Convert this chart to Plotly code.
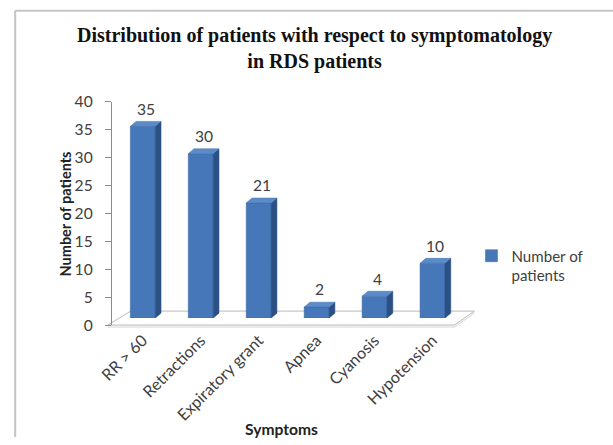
import plotly.graph_objects as go

# Symptom counts among RDS patients
categories = ["RR > 60", "Retractions", "Expiratory grant", "Apnea", "Cyanosis", "Hypotension"]
patients = [35, 30, 21, 2, 4, 10]
y_ticks = [0, 5, 10, 15, 20, 25, 30, 35, 40]

# Layout is written in a 613x445 design grid; the page renders it at a
# slightly larger CSS size (K) and the body keeps its default 8px margin.
K = 1.038
BODY = 8
W, H = 620, 445
X_SHIFT, X_SCALE = 5, 1.015


def px(x):
    """design column -> paper fraction"""
    x = (x - X_SHIFT) / X_SCALE
    return (x * K - BODY) / W


def py(y):
    """design row -> paper fraction"""
    return 1 - (y * K - BODY) / H


def fs(size):
    """font size in design units -> css px"""
    return round(size * K, 1)


FRONT = "#4677b8"
SIDE = "#2b5083"
TOP = "#5b8cc9"
TXT = "#404040"
FONT = "Lato"

bar_w = 0.43   # column width in category units
dx = 0.10      # depth offset along x (category units)
dy = 0.9       # depth offset along y (value units)

xs = list(range(len(categories)))

# side and top faces of each column, built from the same values as the fronts
side_x, side_y, top_x, top_y = [], [], [], []
for i, v in zip(xs, patients):
    r = i + bar_w / 2
    l = i - bar_w / 2
    side_x += [r, r + dx, r + dx, r, r, None]
    side_y += [0, dy, v + dy, v, 0, None]
    top_x += [l, r, r + dx, l + dx, l, None]
    top_y += [v, v, v + dy, v + dy, v, None]

fig = go.Figure()

# empty trace that carries the visible value axis
fig.add_trace(go.Scatter(x=[0], y=[0], mode="none", showlegend=False,
                         hoverinfo="skip", xaxis="x", yaxis="y"))

fig.add_trace(go.Scatter(x=side_x, y=side_y, mode="lines", fill="toself",
                         fillcolor=SIDE, line=dict(width=0.5, color=SIDE),
                         showlegend=False, hoverinfo="skip", xaxis="x", yaxis="y2"))
fig.add_trace(go.Bar(x=xs, y=patients, width=bar_w, name="Number of<br>patients",
                     marker=dict(color=FRONT, line=dict(width=0.5, color="#3a679f")),
                     xaxis="x", yaxis="y2"))
fig.add_trace(go.Scatter(x=top_x, y=top_y, mode="lines", fill="toself",
                         fillcolor=TOP, line=dict(width=0.5, color="#3f6fab"),
                         showlegend=False, hoverinfo="skip", xaxis="x", yaxis="y2"))

annotations = []
for i, v in zip(xs, patients):
    annotations.append(dict(x=i + dx / 2, y=v, xref="x", yref="y2", text=str(v),
                            showarrow=False, yshift=17 * K, xanchor="center",
                            yanchor="middle",
                            font=dict(family=FONT, size=fs(15), color=TXT)))

annotations += [
    dict(x=px(312), y=py(46), xref="paper", yref="paper", showarrow=False,
         text="<b>Distribution of patients with respect to symptomatology<br>in RDS patients</b>",
         font=dict(family="Liberation Serif", size=fs(19.3), color="#111111"),
         xanchor="center", yanchor="middle"),
    dict(x=px(62), y=py(212), xref="paper", yref="paper", showarrow=False,
         text="<b>Number of patients</b>", textangle=-90,
         xanchor="center", yanchor="middle",
         font=dict(family=FONT, size=fs(14), color="#222222")),
    dict(x=px(279), y=py(428), xref="paper", yref="paper", showarrow=False,
         text="<b>Symptoms</b>", xanchor="center", yanchor="middle",
         font=dict(family=FONT, size=fs(15), color="#222222")),
]

floor_col = "#b8b8b8"
shapes = [
    # chart frame
    dict(type="line", xref="paper", yref="paper", x0=px(12), x1=px(12), y0=py(8.5), y1=0,
         line=dict(color="#c4c4c4", width=2)),
    dict(type="line", xref="paper", yref="paper", x0=px(12), x1=1, y0=py(8.5), y1=py(8.5),
         line=dict(color="#c4c4c4", width=2)),
    # floor slab
    dict(type="path", xref="paper", yref="paper",
         path=f"M {px(105)},{py(324)} L {px(453)},{py(324)} L {px(473)},{py(310)} "
              f"L {px(128)},{py(310)} Z",
         line=dict(color=floor_col, width=1), fillcolor="rgba(0,0,0,0)", layer="below"),
    dict(type="path", xref="paper", yref="paper",
         path=f"M {px(105)},{py(326)} L {px(453)},{py(326)} L {px(473)},{py(312)}",
         line=dict(color="#d4d4d4", width=1), fillcolor="rgba(0,0,0,0)", layer="below"),
]

fig.update_layout(
    width=W, height=H,
    margin=dict(l=0, r=0, t=0, b=0),
    paper_bgcolor="white", plot_bgcolor="rgba(0,0,0,0)",
    showlegend=True,
    legend=dict(x=px(470), y=py(238), xanchor="left", yanchor="top",
                valign="top", font=dict(family=FONT, size=fs(14.5), color=TXT),
                bgcolor="rgba(0,0,0,0)", itemclick=False),
    xaxis=dict(domain=[px(111), px(460)], range=[-0.5, 5.5], anchor="free",
               position=py(326), tickmode="array", tickvals=xs, ticktext=categories,
               tickangle=-45, showline=False, showgrid=False, zeroline=False,
               ticks="", tickfont=dict(family=FONT, size=fs(15.5), color=TXT)),
    yaxis=dict(domain=[py(324), py(100)], range=[0, 40], anchor="free", position=px(108),
               tickmode="array", tickvals=y_ticks, showline=True, linecolor="#8c8c8c",
               linewidth=1, ticks="outside", ticklen=6, tickcolor="#8c8c8c",
               showgrid=False, zeroline=False, ticklabelstandoff=9,
               tickfont=dict(family=FONT, size=fs(15), color=TXT)),
    yaxis2=dict(domain=[py(317), py(97)], range=[0, 40], anchor="x", visible=False,
                showgrid=False, zeroline=False),
    annotations=annotations,
    shapes=shapes,
)

fig.write_html("out.html")
